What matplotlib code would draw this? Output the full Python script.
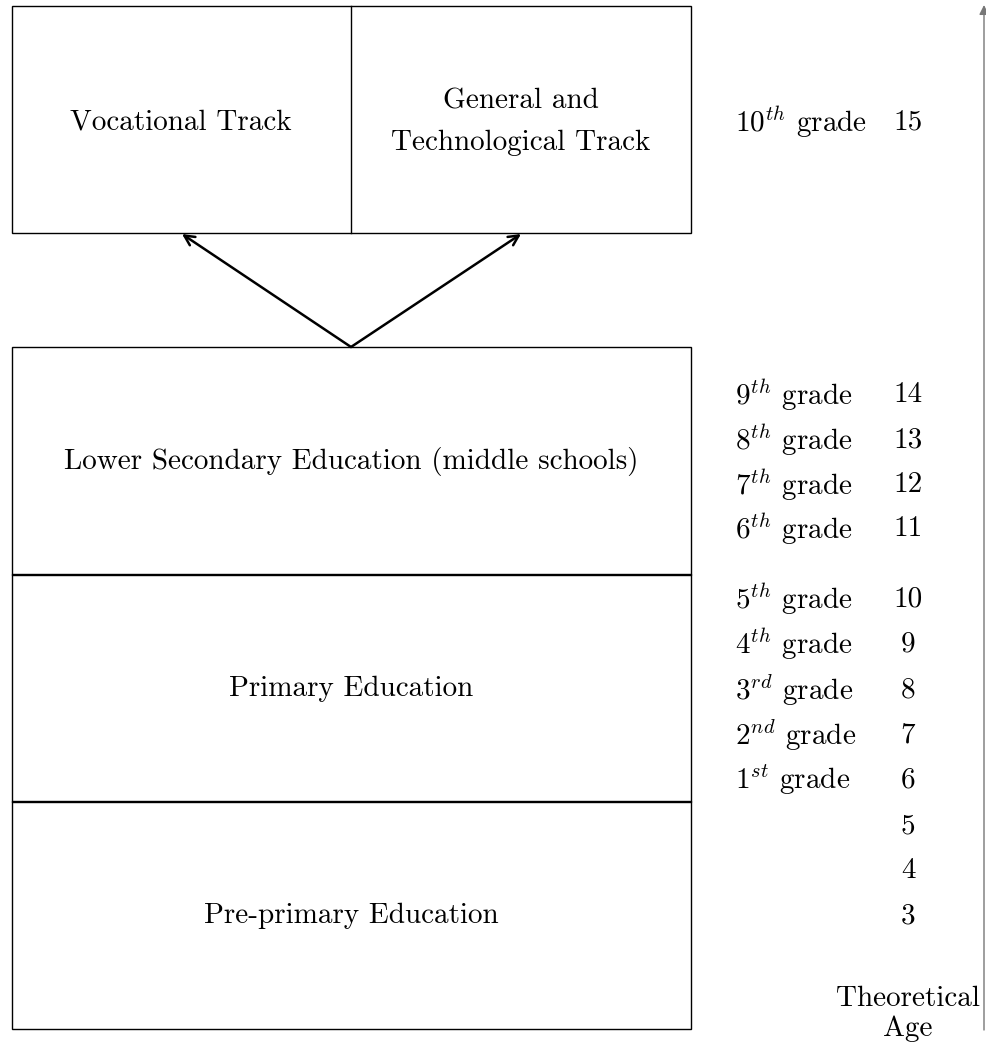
import matplotlib.pyplot as plt
from matplotlib.patches import Rectangle

plt.rcParams['font.family'] = 'cmr10'
plt.rcParams['mathtext.fontset'] = 'cm'

# levels of the school system, bottom to top
levels = ['Pre-primary Education', 'Primary Education',
          'Lower Secondary Education (middle schools)']
tracks = ['Vocational Track', 'General and\nTechnological Track']

grades = ['$1^{st}$', '$2^{nd}$', '$3^{rd}$', '$4^{th}$', '$5^{th}$',
          '$6^{th}$', '$7^{th}$', '$8^{th}$', '$9^{th}$', '$10^{th}$']
ages = [3, 4, 5, 6, 7, 8, 9, 10, 11, 12, 13, 14, 15]
age_y = [916, 871, 826, 780, 735, 690, 644, 599, 529, 485, 440, 395, 122]

fig = plt.figure(figsize=(9.86, 10.45), dpi=100)
ax = fig.add_axes([0, 0, 1, 1])
ax.set_xlim(0, 986)
ax.set_ylim(1045, 0)
ax.axis('off')

fs = 21
lw = 1.0

# stacked level boxes
box_top = [801, 574, 347]
for name, top in zip(levels, box_top):
    ax.add_patch(Rectangle((12, top), 679, 228, fill=False, lw=lw, ec='black'))
    ax.text(351, top + 115, name, ha='center', va='center', fontsize=fs)

# upper secondary box split in two tracks
ax.add_patch(Rectangle((12, 6), 679, 227, fill=False, lw=lw, ec='black'))
ax.plot([351, 351], [6, 233], color='black', lw=lw)
ax.text(181, 122, tracks[0], ha='center', va='center', fontsize=fs)
ax.text(521, 122, tracks[1], ha='center', va='center', fontsize=fs,
        linespacing=1.75)

# arrows from middle school to the two tracks
for tx in [182, 521]:
    ax.annotate('', xy=(tx, 234), xytext=(351, 347),
                arrowprops=dict(arrowstyle='->', lw=1.8, color='black',
                                shrinkA=0, shrinkB=0, mutation_scale=18))

# grade and age labels
for i, a in enumerate(ages):
    y = age_y[i]
    ax.text(908, y, str(a), ha='center', va='center', fontsize=fs)
    g = a - 6
    if 0 <= g < len(grades):
        ax.text(735, y, grades[g] + ' grade', ha='left', va='center', fontsize=fs)

# age axis
ax.annotate('', xy=(984, 5), xytext=(984, 1030),
            arrowprops=dict(arrowstyle='-|>', lw=1.0, color='#777777',
                            shrinkA=0, shrinkB=0, mutation_scale=14))
ax.text(908, 1014, 'Theoretical\nAge', ha='center', va='center', fontsize=fs,
        linespacing=1.2)

fig.savefig('out.png', dpi=100)
